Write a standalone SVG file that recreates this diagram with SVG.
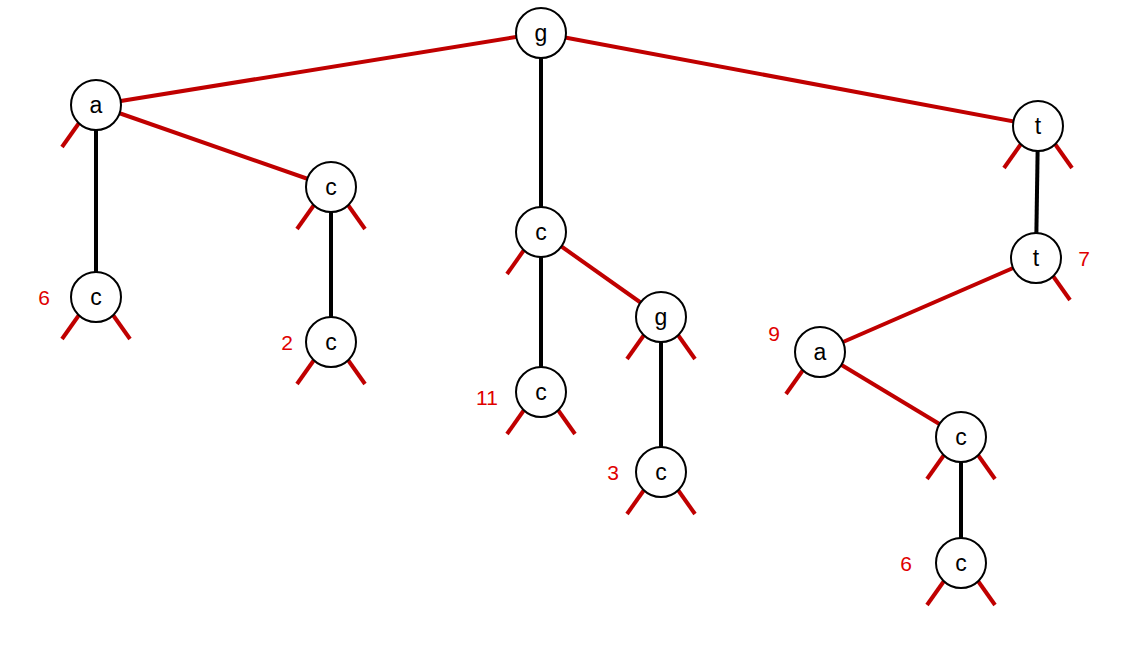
<svg xmlns="http://www.w3.org/2000/svg" width="1132" height="648" viewBox="0 0 1132 648">
<style>
.r{stroke:#C00000;stroke-width:4;fill:none}
.k{stroke:#000;stroke-width:4;fill:none}
.n circle{fill:#fff;stroke:#000;stroke-width:2}
.n text{font-family:"Liberation Sans",Arial,sans-serif;font-size:23px;text-anchor:middle;fill:#000}
.lb{font-family:"Liberation Sans",Arial,sans-serif;font-size:21px;fill:#E00000;text-anchor:middle}
</style>
<defs>
<path id="sl" class="r" d="M-17,18 L-34,42"/>
<path id="sr" class="r" d="M17,18 L34,42"/>
</defs>
<g id="connectors">
<line class="r" x1="541" y1="33" x2="96" y2="105"/>
<line class="r" x1="541" y1="33" x2="1038" y2="126"/>
<line class="k" x1="541" y1="33" x2="541" y2="232"/>
<line class="r" x1="96" y1="105" x2="331" y2="187"/>
<line class="k" x1="96" y1="105" x2="96" y2="297"/>
<line class="k" x1="331" y1="187" x2="331" y2="342"/>
<line class="r" x1="541" y1="232" x2="661" y2="317"/>
<line class="k" x1="541" y1="232" x2="541" y2="392"/>
<line class="k" x1="661" y1="317" x2="661" y2="472"/>
<line class="k" x1="1038" y1="126" x2="1036" y2="258"/>
<line class="r" x1="1036" y1="258" x2="820" y2="352"/>
<line class="r" x1="820" y1="352" x2="961" y2="437"/>
<line class="k" x1="961" y1="437" x2="961" y2="563"/>
</g>
<g id="n_g0" class="n" transform="translate(541,33)"><circle r="25"/><text y="8">g</text></g>
<g id="n_a1" class="n" transform="translate(96,105)"><use href="#sl"/><circle r="25"/><text y="8">a</text></g>
<g id="n_t1" class="n" transform="translate(1038,126)"><use href="#sl"/><use href="#sr"/><circle r="25"/><text y="8">t</text></g>
<g id="n_c1" class="n" transform="translate(331,187)"><use href="#sl"/><use href="#sr"/><circle r="25"/><text y="8">c</text></g>
<g id="n_c2" class="n" transform="translate(541,232)"><use href="#sl"/><circle r="25"/><text y="8">c</text></g>
<g id="n_t2" class="n" transform="translate(1036,258)"><use href="#sr"/><circle r="25"/><text y="8">t</text></g>
<g id="n_c3" class="n" transform="translate(96,297)"><use href="#sl"/><use href="#sr"/><circle r="25"/><text y="8">c</text></g>
<g id="n_c4" class="n" transform="translate(331,342)"><use href="#sl"/><use href="#sr"/><circle r="25"/><text y="8">c</text></g>
<g id="n_g2" class="n" transform="translate(661,317)"><use href="#sl"/><use href="#sr"/><circle r="25"/><text y="8">g</text></g>
<g id="n_a2" class="n" transform="translate(820,352)"><use href="#sl"/><circle r="25"/><text y="8">a</text></g>
<g id="n_c5" class="n" transform="translate(541,392)"><use href="#sl"/><use href="#sr"/><circle r="25"/><text y="8">c</text></g>
<g id="n_c6" class="n" transform="translate(961,437)"><use href="#sl"/><use href="#sr"/><circle r="25"/><text y="8">c</text></g>
<g id="n_c7" class="n" transform="translate(661,472)"><use href="#sl"/><use href="#sr"/><circle r="25"/><text y="8">c</text></g>
<g id="n_c8" class="n" transform="translate(961,563)"><use href="#sl"/><use href="#sr"/><circle r="25"/><text y="8">c</text></g>
<g id="labels">
<text class="lb" x="44" y="305">6</text>
<text class="lb" x="287" y="350">2</text>
<text class="lb" x="487" y="405">11</text>
<text class="lb" x="613" y="480">3</text>
<text class="lb" x="1084" y="266">7</text>
<text class="lb" x="774" y="341">9</text>
<text class="lb" x="906" y="571">6</text>
</g>
</svg>
